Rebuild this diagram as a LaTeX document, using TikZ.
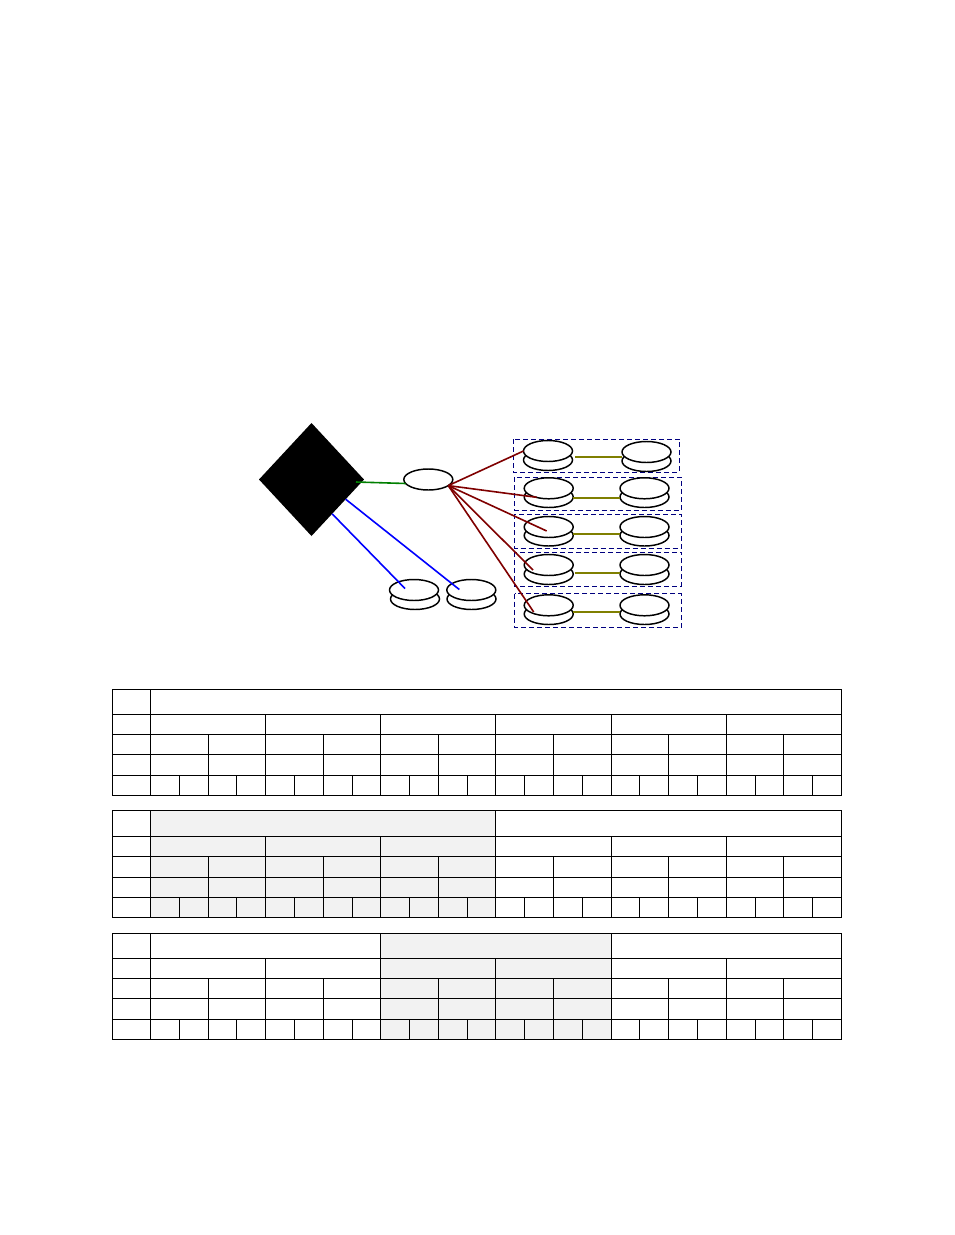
\documentclass[tikz,border=0pt]{standalone}
\usepackage{xcolor}
\usepackage{tikz}
\usetikzlibrary{shapes.geometric}
\definecolor{darkred}{HTML}{7F0000}
\definecolor{olv}{HTML}{7F7F00}
\definecolor{grn}{HTML}{007F00}
\definecolor{blu}{HTML}{0000FF}
\definecolor{nav}{HTML}{00007F}
\definecolor{cellgrey}{HTML}{F2F2F2}
\tikzset{
  disk/.style={ellipse, draw=black, fill=white, line width=1.1pt, inner sep=0pt, outer sep=0pt,
    minimum width=36.75pt, minimum height=15.75pt},
  rack/.style={draw=nav, line width=0.6pt, dash pattern=on 3.75pt off 2.25pt},
  uplink/.style={grn, line width=1.2pt},
  downlink/.style={blu, line width=1.2pt},
  fanout/.style={darkred, line width=1.2pt},
  mirror/.style={olv, line width=1.2pt},
  grid line/.style={black, line width=0.75pt}
}
% stacked disk: name, top x, top y, lower x, lower y
\newcommand{\stackdisk}[5]{
  \node[disk] (#1low) at (#4,#5) {};
  \node[disk] (#1) at (#2,#3) {};
}
% table: six rule heights, dividers of first row, shaded from, shaded to (column numbers)
\newcommand{\celltable}[9]{
  \fill[cellgrey] ({150.5+28.79*#8},#1) rectangle ({150.5+28.79*#9},#6);
  \draw[grid line] (112.5,#1) rectangle (841.5,#6);
  \foreach \y in {#2,#3,#4,#5} \draw[grid line] (112.5,\y) -- (841.5,\y);
  \draw[grid line] (150.5,#1) -- (150.5,#6);
  \foreach \k in {#7} \draw[grid line] ({150.5+28.79*\k},#1) -- ({150.5+28.79*\k},#2);
  \foreach \k in {4,8,...,20} \draw[grid line] ({150.5+28.79*\k},#2) -- ({150.5+28.79*\k},#3);
  \foreach \k in {2,4,...,22} \draw[grid line] ({150.5+28.79*\k},#3) -- ({150.5+28.79*\k},#5);
  \foreach \k in {1,...,23} \draw[grid line] ({150.5+28.79*\k},#5) -- ({150.5+28.79*\k},#6);
}
\begin{document}
\begin{tikzpicture}[x=0.75pt,y=-0.75pt]
  \useasboundingbox (0,0) rectangle (954,1235);
  % Dashed groups
  \draw[rack] (513.7,439) rectangle (679.3,472.3);
  \draw[rack] (514.7,477.3) rectangle (681.3,510.3);
  \draw[rack] (514.7,514.3) rectangle (681.3,548.3);
  \draw[rack] (514.7,552) rectangle (681.3,586.3);
  \draw[rack] (514.7,593.7) rectangle (681.3,627.3);
  % Switch and hub
  \node[diamond, fill=black, inner sep=0pt, outer sep=0pt, minimum width=78.75pt, minimum height=84.75pt] (switch) at (311.5,479.5) {};
  \node[disk] (hub) at (428.3,479.5) {};
  % Disks
  \stackdisk{blockA}{414}{590}{415}{599}
  \stackdisk{blockB}{471.3}{590}{471.5}{599}
  \stackdisk{lOne}{548}{451}{548}{460}
  \stackdisk{rOne}{646.5}{452}{646.5}{461}
  \stackdisk{lTwo}{548.7}{488.3}{548.7}{497}
  \stackdisk{rTwo}{644.5}{488.3}{644.5}{497}
  \stackdisk{lThree}{548.7}{527}{548.7}{535.5}
  \stackdisk{rThree}{644.5}{527}{644.5}{535.5}
  \stackdisk{lFour}{548.7}{565}{548.7}{574}
  \stackdisk{rFour}{644.5}{565}{644.5}{574}
  \stackdisk{lFive}{548.7}{605.3}{548.7}{614}
  \stackdisk{rFive}{644.5}{605.3}{644.5}{614}
  % Free ends of the links
  \coordinate (upEnd) at (356,482);
  \coordinate (downA) at (405,588.5);
  \coordinate (downB) at (459.3,589.5);
  \coordinate (endTwo) at (536.7,497.3);
  \coordinate (endThree) at (546.7,531);
  \coordinate (endFour) at (533,570);
  \coordinate (endFive) at (533.7,612);
  % Links
  \draw[uplink] (upEnd) -- (hub.190);
  \draw[downlink] (switch.-59) -- (downA);
  \draw[downlink] (switch.-30) -- (downB);
  \draw[fanout] (hub.-17) -- (lOne.west);
  \draw[fanout] (hub.-17) -- (endTwo);
  \draw[fanout] (hub.-17) -- (endThree);
  \draw[fanout] (hub.-17) -- (endFour);
  \draw[fanout] (hub.-17) -- (endFive);
  % Mirror pairs
  \draw[mirror] (575,457) -- (622,457);
  \draw[mirror] (572.5,498) -- (620,498);
  \draw[mirror] (573,534) -- (620,534);
  \draw[mirror] (574.7,573) -- (620,573);
  \draw[mirror] (573,612) -- (620,612);
  % Tables
  \celltable{689.5}{714.5}{734.5}{754.5}{775.5}{795.5}{}{0}{0}
  \celltable{810.5}{836.5}{856.5}{877.5}{897.5}{917.5}{12}{0}{12}
  \celltable{933.5}{958.5}{978.5}{998.5}{1019.5}{1039.5}{8,16}{8}{16}
\end{tikzpicture}
\end{document}
